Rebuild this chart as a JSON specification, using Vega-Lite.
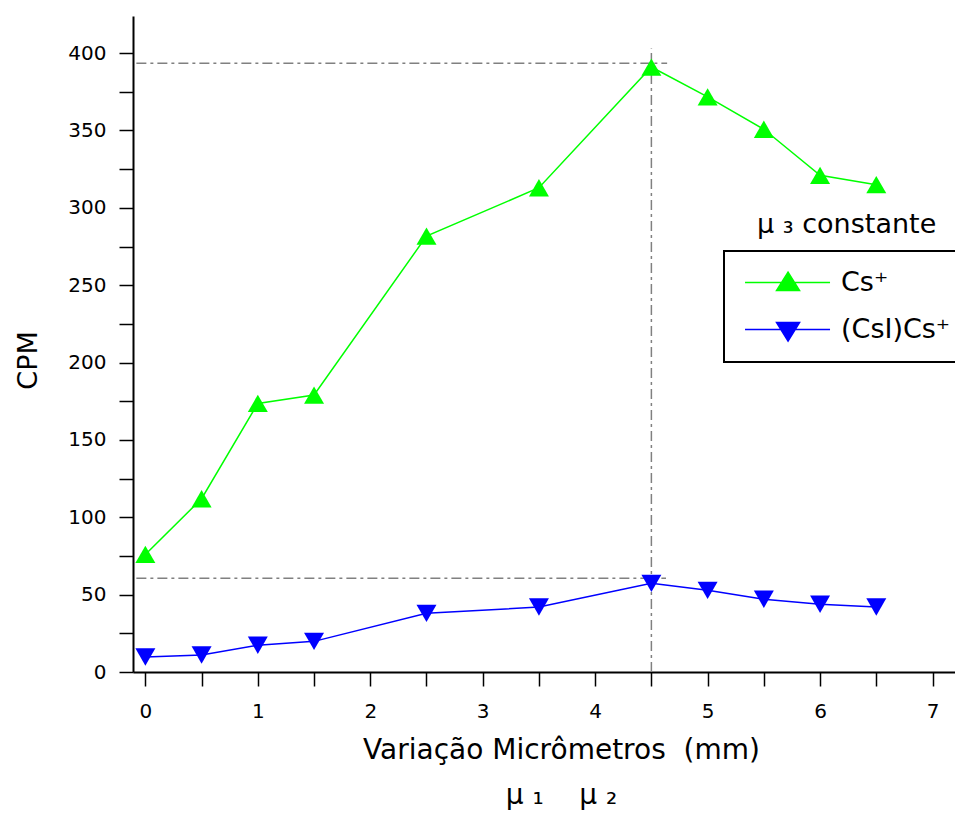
{
  "$schema": "https://vega.github.io/schema/vega-lite/v6.json",
  "width": 822,
  "height": 656,
  "autosize": {"type": "none"},
  "padding": {"left": 133, "top": 16, "right": 0, "bottom": 145},
  "background": "white",
  "config": {
    "view": {"stroke": null},
    "font": "DejaVu Sans",
    "axis": {
      "domainColor": "black", "domainWidth": 2, "tickColor": "black", "tickWidth": 1.5,
      "labelFont": "DejaVu Sans", "labelFontSize": 20, "labelColor": "black",
      "titleFont": "DejaVu Sans", "titleFontSize": 27, "titleFontWeight": "normal", "titleColor": "black",
      "grid": false, "labelFlush": false, "labelOverlap": false
    }
  },
  "data": {"values": [
    {"x": 0, "cpm": 76, "serie": "Cs⁺"},
    {"x": 0.5, "cpm": 112, "serie": "Cs⁺"},
    {"x": 1, "cpm": 173.6, "serie": "Cs⁺"},
    {"x": 1.5, "cpm": 179, "serie": "Cs⁺"},
    {"x": 2.5, "cpm": 281.7, "serie": "Cs⁺"},
    {"x": 3.5, "cpm": 313, "serie": "Cs⁺"},
    {"x": 4.5, "cpm": 391, "serie": "Cs⁺"},
    {"x": 5, "cpm": 371.7, "serie": "Cs⁺"},
    {"x": 5.5, "cpm": 350.8, "serie": "Cs⁺"},
    {"x": 6, "cpm": 321, "serie": "Cs⁺"},
    {"x": 6.5, "cpm": 315, "serie": "Cs⁺"},
    {"x": 0, "cpm": 9.7, "serie": "(CsI)Cs⁺"},
    {"x": 0.5, "cpm": 11, "serie": "(CsI)Cs⁺"},
    {"x": 1, "cpm": 17.3, "serie": "(CsI)Cs⁺"},
    {"x": 1.5, "cpm": 19.8, "serie": "(CsI)Cs⁺"},
    {"x": 2.5, "cpm": 37.9, "serie": "(CsI)Cs⁺"},
    {"x": 3.5, "cpm": 42, "serie": "(CsI)Cs⁺"},
    {"x": 4.5, "cpm": 57.3, "serie": "(CsI)Cs⁺"},
    {"x": 5, "cpm": 52.8, "serie": "(CsI)Cs⁺"},
    {"x": 5.5, "cpm": 47, "serie": "(CsI)Cs⁺"},
    {"x": 6, "cpm": 43.8, "serie": "(CsI)Cs⁺"},
    {"x": 6.5, "cpm": 42, "serie": "(CsI)Cs⁺"}
  ]},
  "layer": [
    {
      "data": {"values": [{}]},
      "mark": {"type": "rule", "color": "#808080", "strokeWidth": 1.5, "strokeDash": [10, 4, 3, 4]},
      "encoding": {"x": {"datum": -0.08}, "x2": {"datum": 4.64}, "y": {"datum": 393.5}}
    },
    {
      "data": {"values": [{}]},
      "mark": {"type": "rule", "color": "#808080", "strokeWidth": 1.5, "strokeDash": [10, 4, 3, 4]},
      "encoding": {"x": {"datum": -0.08}, "x2": {"datum": 4.63}, "y": {"datum": 60.6}}
    },
    {
      "data": {"values": [{}]},
      "mark": {"type": "rule", "color": "#808080", "strokeWidth": 1.5, "strokeDash": [10, 4, 3, 4]},
      "encoding": {"x": {"datum": 4.5}, "y": {"datum": 0}, "y2": {"datum": 403}}
    },
    {
      "mark": {"type": "line", "strokeWidth": 1.5},
      "encoding": {
        "x": {
          "field": "x", "type": "quantitative",
          "scale": {"domain": [-0.11, 7.2], "nice": false, "zero": false},
          "axis": {
            "title": ["Variação Micrômetros\u00a0\u00a0(mm)", "μ\u00a0₁\u00a0\u00a0\u00a0\u00a0μ\u00a0₂"],
            "values": [0, 0.5, 1, 1.5, 2, 2.5, 3, 3.5, 4, 4.5, 5, 5.5, 6, 6.5, 7],
            "format": "~g",
            "labelExpr": "datum.value % 1 === 0 ? datum.label : ''",
            "tickSize": 14, "labelPadding": 15,
            "encode": {"ticks": {"update": {"y2": {"signal": "datum.value % 1 === 0 ? 14 : 9"}}}},
            "titleX": 428, "titleY": 86, "titleAlign": "center", "titleBaseline": "alphabetic",
            "titleLineHeight": 45, "titleFontSize": 28
          }
        },
        "y": {
          "field": "cpm", "type": "quantitative",
          "scale": {"domain": [0, 424], "nice": false, "zero": false},
          "axis": {
            "title": "CPM",
            "values": [0, 25, 50, 75, 100, 125, 150, 175, 200, 225, 250, 275, 300, 325, 350, 375, 400],
            "format": "d",
            "labelExpr": "datum.value % 50 === 0 ? datum.label : ''",
            "tickSize": 14, "labelPadding": 13,
            "encode": {"ticks": {"update": {"x2": {"signal": "datum.value % 50 === 0 ? -14 : -9"}}}},
            "titleAngle": 270, "titleX": -105, "titleY": 344, "titleAlign": "center", "titleBaseline": "middle"
          }
        },
        "color": {
          "field": "serie", "type": "nominal",
          "scale": {"domain": ["Cs⁺", "(CsI)Cs⁺"], "range": ["#00ff00", "#0000ff"]},
          "legend": {
            "title": null, "orient": "none", "legendX": 591, "legendY": 235,
            "padding": 18, "rowPadding": 19, "symbolSize": 529, "labelOffset": 72,
            "labelFont": "DejaVu Sans", "labelFontSize": 27, "labelColor": "black",
            "strokeColor": "black", "fillColor": "white",
            "encode": {
              "legend": {"update": {"strokeWidth": {"value": 2}}},
              "symbols": {"update": {
                "shape": {"signal": "datum.value === 'Cs⁺' ? 'M-0.91,0H6.48M2.83,-0.9L3.83,0.7L1.83,0.7Z' : 'M-0.91,0H6.48M2.83,1L3.83,-0.6L1.83,-0.6Z'"},
                "fill": {"signal": "datum.value === 'Cs⁺' ? '#00ff00' : '#0000ff'"},
                "stroke": {"signal": "datum.value === 'Cs⁺' ? '#00ff00' : '#0000ff'"},
                "strokeWidth": {"value": 1.5},
                "opacity": {"value": 1},
                "size": {"value": 529}
              }}
            }
          }
        }
      }
    },
    {
      "transform": [{"filter": "datum.serie === 'Cs⁺'"}],
      "mark": {"type": "point", "shape": "triangle-up", "filled": true, "size": 400, "opacity": 1},
      "encoding": {
        "x": {"field": "x", "type": "quantitative"},
        "y": {"field": "cpm", "type": "quantitative"},
        "color": {"field": "serie", "type": "nominal"}
      }
    },
    {
      "transform": [{"filter": "datum.serie !== 'Cs⁺'"}],
      "mark": {"type": "point", "shape": "triangle-down", "filled": true, "size": 400, "opacity": 1},
      "encoding": {
        "x": {"field": "x", "type": "quantitative"},
        "y": {"field": "cpm", "type": "quantitative"},
        "color": {"field": "serie", "type": "nominal"}
      }
    },
    {
      "data": {"values": [{}]},
      "mark": {"type": "text", "text": "μ\u00a0₃\u00a0constante", "align": "left", "baseline": "alphabetic", "fontSize": 27, "font": "DejaVu Sans", "color": "black"},
      "encoding": {"x": {"datum": 5.44}, "y": {"datum": 283.6}}
    }
  ]
}
